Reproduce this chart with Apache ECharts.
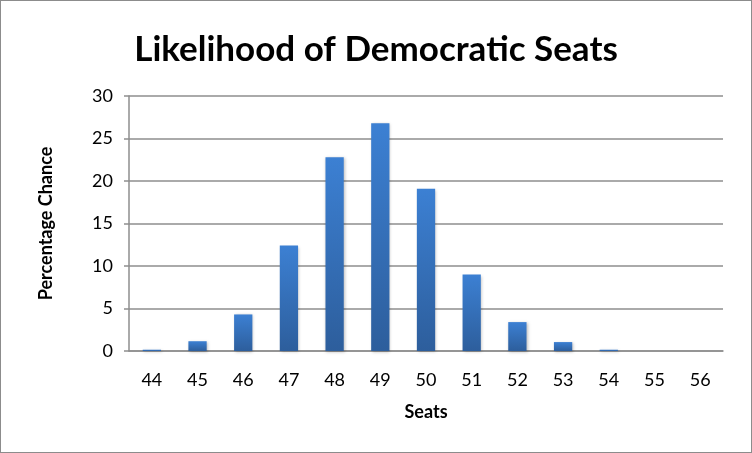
<!DOCTYPE html>
<html><head><meta charset="utf-8">
<script src="https://cdn.jsdelivr.net/npm/echarts@6/dist/echarts.min.js"></script>
<style>
html,body{margin:0;padding:0;background:#fff;}
#c{width:750px;height:451px;border:1px solid #8c8c8c;}
</style></head>
<body><div id="c"></div>
<script>
const seats = ['44','45','46','47','48','49','50','51','52','53','54','55','56'];
const chance = [0.15, 1.15, 4.3, 12.4, 22.8, 26.8, 19.1, 9.0, 3.4, 1.05, 0.15, 0, 0];
const yTicks = {min: 0, max: 30, interval: 5};

const chart = echarts.init(document.getElementById('c'));
const font = 'Lato, "Open Sans", sans-serif';
chart.setOption({
  animation: false,
  title: {
    text: 'Likelihood of Democratic Seats', left: 'center', top: 26,
    textStyle: {fontFamily: font, fontWeight: 'bold', fontSize: 35, color: '#000'}
  },
  grid: {left: 128, right: 28, top: 95, bottom: 101},
  xAxis: {
    type: 'category', data: seats,
    name: 'Seats', nameLocation: 'middle', nameGap: 52,
    nameTextStyle: {fontFamily: font, fontWeight: 'bold', fontSize: 18, color: '#000'},
    axisLine: {lineStyle: {color: '#8e8e8e', width: 1.5}},
    axisTick: {show: false},
    axisLabel: {fontFamily: font, fontSize: 18, color: '#000', margin: 20}
  },
  yAxis: {
    type: 'value', min: yTicks.min, max: yTicks.max, interval: yTicks.interval,
    name: 'Percentage Chance', nameLocation: 'middle', nameGap: 74, nameRotate: 90,
    nameTextStyle: {fontFamily: font, fontWeight: 'bold', fontSize: 18, color: '#000'},
    axisLine: {show: true, lineStyle: {color: '#8e8e8e', width: 1.5}},
    axisTick: {show: true, length: 5, lineStyle: {color: '#8e8e8e', width: 1.5}},
    axisLabel: {fontFamily: font, fontSize: 18, color: '#000', margin: 16},
    splitLine: {lineStyle: {color: '#8e8e8e', width: 1.5}}
  },
  series: [{
    type: 'bar', data: chance, barWidth: '40%',
    itemStyle: {
      color: new echarts.graphic.LinearGradient(0, 0, 0, 1, [
        {offset: 0, color: '#3c80d3'}, {offset: 1, color: '#2d5e9c'}
      ]),
      shadowColor: 'rgba(0,0,0,0.25)', shadowBlur: 3, shadowOffsetX: 1, shadowOffsetY: 1
    }
  }]
});
</script></body></html>
